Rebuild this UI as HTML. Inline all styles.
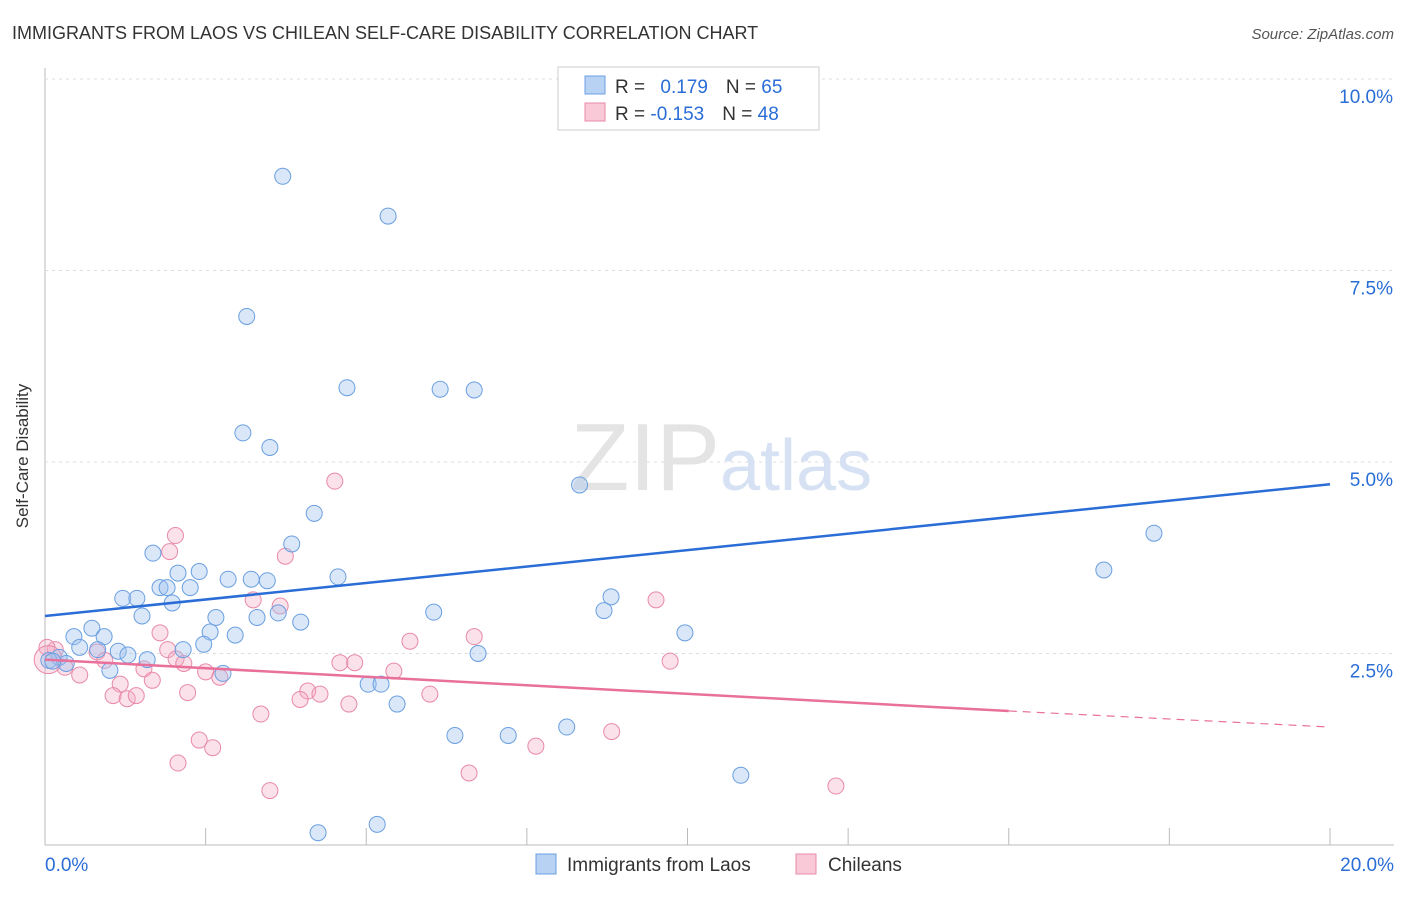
<!DOCTYPE html>
<html><head><meta charset="utf-8"><style>
body{margin:0;background:#fff;font-family:"Liberation Sans",sans-serif;}
svg text{font-family:"Liberation Sans",sans-serif;}
</style></head><body>
<svg id="chart" width="1406" height="892">
<text x="12" y="39" font-size="18" fill="#333">IMMIGRANTS FROM LAOS VS CHILEAN SELF-CARE DISABILITY CORRELATION CHART</text>
<text x="1394" y="39" font-size="15" fill="#555" text-anchor="end" font-style="italic">Source: ZipAtlas.com</text>
<text x="28" y="456" font-size="17" fill="#333" text-anchor="middle" transform="rotate(-90 28 456)">Self-Care Disability</text>
<g id="grid"></g>
<text x="720" y="490" font-size="96" fill="#e4e4e4" text-anchor="end" font-family="Liberation Serif">ZIP</text>
<text x="720" y="490" font-size="72" fill="#d6e2f4">atlas</text>
<g id="pts"></g>
<g id="lines"></g>
<g>
<rect x="558" y="67" width="261" height="63" fill="#fff" stroke="#ccc"/>
<rect x="585" y="76" width="20" height="18" fill="#b8d2f4" stroke="#6a9fe0"/>
<rect x="585" y="103" width="20" height="18" fill="#f9c9d8" stroke="#e88aa8"/>
<text x="615" y="93" font-size="19" fill="#333">R = <tspan fill="#2a6dd6" dx="10">0.179</tspan><tspan dx="18">N = </tspan><tspan fill="#2a6dd6">65</tspan></text>
<text x="615" y="120" font-size="19" fill="#333">R = <tspan fill="#2a6dd6">-0.153</tspan><tspan dx="18">N = </tspan><tspan fill="#2a6dd6">48</tspan></text>
</g>
<g>
<rect x="536" y="854" width="20" height="20" fill="#b8d2f4" stroke="#6a9fe0"/>
<text x="567" y="871" font-size="19" fill="#333">Immigrants from Laos</text>
<rect x="796" y="854" width="20" height="20" fill="#f9c9d8" stroke="#e88aa8"/>
<text x="828" y="871" font-size="19" fill="#333">Chileans</text>
</g>
</svg>
<script>
const xTicks=[0,2.5,5,7.5,10,12.5,15,17.5,20];
const yTicks=[2.5,5.0,7.5,10.0];
const blueX=[3.70,5.34,3.14,4.70,6.15,6.68,3.08,3.50,8.32,4.19,17.26,3.84,1.68,16.48,2.40,2.07,2.85,3.21,3.46,4.56,1.79,1.90,2.26,1.21,1.43,1.98,8.81,8.70,6.05,1.51,3.63,2.66,3.30,3.98,0.73,2.57,2.96,9.96,0.45,0.92,2.47,2.15,0.54,0.82,1.14,1.29,6.74,0.22,1.59,0.06,0.33,0.12,1.01,2.77,5.03,5.23,5.48,8.12,6.38,7.21,10.83,4.25,5.17];
const blueY=[8.73,8.21,6.90,5.97,5.95,5.94,5.38,5.19,4.70,4.33,4.07,3.93,3.81,3.59,3.57,3.55,3.47,3.47,3.45,3.50,3.36,3.36,3.36,3.22,3.22,3.16,3.24,3.06,3.04,2.99,3.03,2.97,2.97,2.91,2.83,2.78,2.74,2.77,2.72,2.72,2.62,2.55,2.58,2.55,2.53,2.48,2.50,2.45,2.42,2.41,2.37,2.40,2.28,2.24,2.10,2.10,1.84,1.54,1.43,1.43,0.91,0.16,0.27];
const pinkX=[4.51,2.03,1.94,3.74,3.24,3.66,9.51,1.79,5.68,6.68,1.91,2.04,0.81,2.16,4.59,4.82,9.73,1.54,0.93,0.16,0.31,0.54,0.03,5.43,2.50,2.72,1.17,1.67,2.22,1.06,1.28,1.42,4.09,4.28,3.97,5.99,4.73,3.36,2.40,2.61,8.82,7.64,2.07,6.60,3.50,12.31,0.05];
const pinkY=[4.75,4.04,3.83,3.77,3.20,3.12,3.20,2.77,2.66,2.72,2.55,2.43,2.52,2.37,2.38,2.38,2.40,2.30,2.41,2.55,2.32,2.22,2.58,2.27,2.26,2.19,2.10,2.15,1.99,1.95,1.91,1.95,2.01,1.97,1.90,1.97,1.84,1.71,1.37,1.27,1.48,1.29,1.07,0.94,0.71,0.77,2.42];
const blueLine=[2.99,4.71];
const pinkLine=[2.42,1.75,1.54];
const X=v=>45+v*64.25, Y=v=>845-v*76.6;
const NS='http://www.w3.org/2000/svg';
function mk(t,a,p){const e=document.createElementNS(NS,t);for(const k in a)e.setAttribute(k,a[k]);p.appendChild(e);return e;}
const g=document.getElementById('grid');
mk('line',{x1:45,y1:845,x2:1394,y2:845,stroke:'#bbb'},g);
mk('line',{x1:45,y1:68,x2:45,y2:845,stroke:'#bbb'},g);
yTicks.forEach(v=>{const l=mk('line',{x1:45,y1:Y(v),x2:1394,y2:Y(v),stroke:'#ddd','stroke-dasharray':'3,4'},g);


const t=mk('text',{x:1393,y:Y(v)+24,'font-size':19,fill:'#2a6dd6','text-anchor':'end'},g);t.textContent=v.toFixed(1)+'%';

});
xTicks.forEach(v=>{const l=mk('line',{x1:X(v),y1:828,x2:X(v),y2:845,stroke:'#bbb'},g);

});
[[0,'start',45],[20,'end',1394]].forEach(([v,a,x])=>{const t=mk('text',{x:x,y:871,'font-size':19,fill:'#2a6dd6','text-anchor':a},g);t.textContent=v.toFixed(1)+'%';

});
const p=document.getElementById('pts');
pinkX.forEach((x,i)=>{const c=mk('circle',{cx:X(x),cy:Y(pinkY[i]),r:i==pinkX.length-1?14:8,fill:'rgba(244,170,195,0.35)',stroke:'#e88aa8','stroke-width':1},p);

});
blueX.forEach((x,i)=>{const c=mk('circle',{cx:X(x),cy:Y(blueY[i]),r:8,fill:'rgba(160,195,240,0.4)',stroke:'#6a9fe0','stroke-width':1},p);

});
const L=document.getElementById('lines');
const b=mk('line',{x1:X(0),y1:Y(blueLine[0]),x2:X(20),y2:Y(blueLine[1]),stroke:'#2a6dd6','stroke-width':2.5},L);


const q=mk('line',{x1:X(0),y1:Y(pinkLine[0]),x2:X(15),y2:Y(pinkLine[1]),stroke:'#e8709a','stroke-width':2.5},L);


const d=mk('line',{x1:X(15),y1:Y(pinkLine[1]),x2:X(20),y2:Y(pinkLine[2]),stroke:'#e8709a','stroke-width':1.2,'stroke-dasharray':'8,6'},L);


</script>
</body></html>
